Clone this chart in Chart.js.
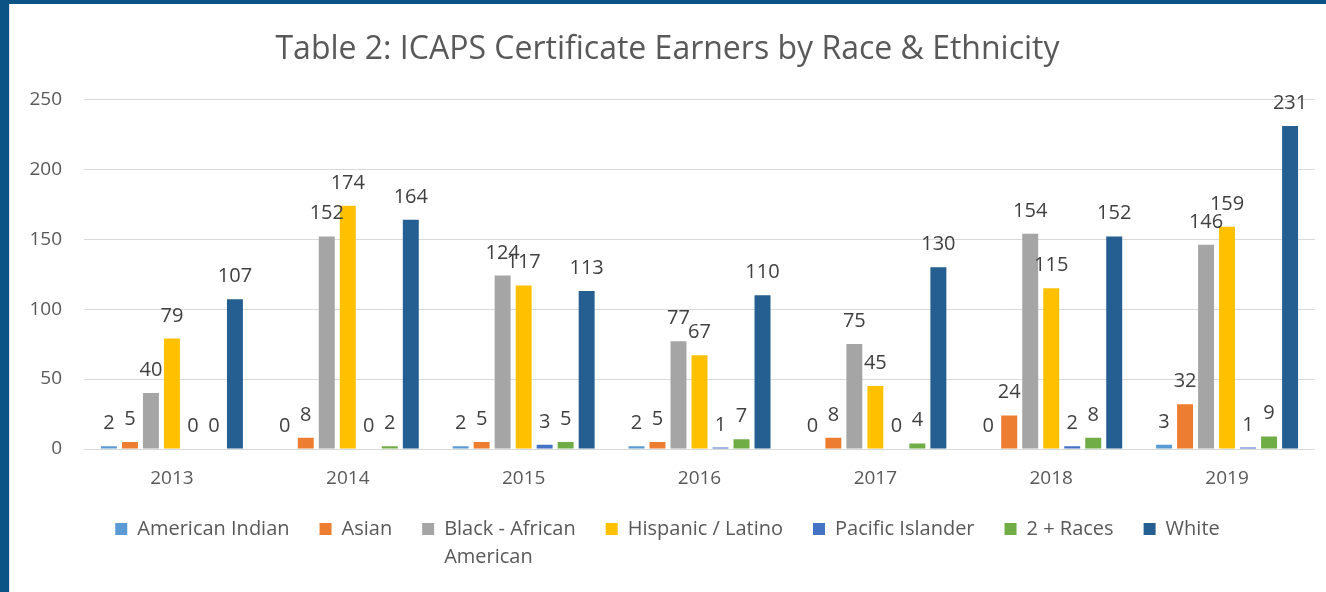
<!DOCTYPE html>
<html>
<head>
<meta charset="utf-8">
<script src="https://cdn.jsdelivr.net/npm/chart.js@4"></script>
<style>
  html, body { margin: 0; padding: 0; background: #fff; }
  #wrap { position: relative; width: 1326px; height: 592px; overflow: hidden; }
  #frameLeft { position: absolute; left: 0; top: 0; width: 9px; height: 592px; background: #0b5384; border-right: 1px solid #dfe3e8; }
  #frameTop { position: absolute; left: 0; top: 0; width: 1326px; height: 4px; background: #0b5384; }
</style>
</head>
<body>
<div id="wrap">
  <canvas id="raceChart" width="1326" height="592"></canvas>
  <div id="frameLeft"></div>
  <div id="frameTop"></div>
</div>
<script>
const years = ['2013', '2014', '2015', '2016', '2017', '2018', '2019'];
const americanIndian = [2, 0, 2, 2, 0, 0, 3];
const asian = [5, 8, 5, 5, 8, 24, 32];
const blackAfricanAmerican = [40, 152, 124, 77, 75, 154, 146];
const hispanicLatino = [79, 174, 117, 67, 45, 115, 159];
const pacificIslander = [0, 0, 3, 1, 0, 2, 1];
const twoPlusRaces = [0, 2, 5, 7, 4, 8, 9];
const white = [107, 164, 113, 110, 130, 152, 231];

const FONT = "'Open Sans', sans-serif";
const LEGEND_SIZE = 20;
const LEGEND_LINE = 28;

// draws the value above each bar, like Excel data labels
const valueLabels = {
  id: 'valueLabels',
  afterDatasetsDraw(chart) {
    const ctx = chart.ctx;
    ctx.save();
    ctx.font = '20px ' + FONT;
    ctx.fillStyle = '#404040';
    ctx.textAlign = 'center';
    ctx.textBaseline = 'alphabetic';
    chart.data.datasets.forEach((ds, i) => {
      chart.getDatasetMeta(i).data.forEach((bar, j) => {
        ctx.fillText(ds.data[j], bar.x, bar.y - 17);
      });
    });
    ctx.restore();
  }
};

// legend only takes one line per item here, so the wrapped rest of a label is drawn below it
const legendWrap = {
  id: 'legendWrap',
  afterDraw(chart) {
    const legend = chart.legend;
    const ctx = chart.ctx;
    ctx.save();
    ctx.font = LEGEND_SIZE + 'px ' + FONT;
    ctx.fillStyle = '#595959';
    ctx.textAlign = 'left';
    ctx.textBaseline = 'middle';
    legend.legendItems.forEach((item, i) => {
      const label = chart.data.datasets[item.datasetIndex].label;
      if (!Array.isArray(label)) return;
      const box = legend.legendHitBoxes[i];
      const x = box.left + legend.options.labels.boxWidth + LEGEND_SIZE / 2;
      let y = box.top + LEGEND_SIZE / 2;
      label.slice(1).forEach(line => {
        y += LEGEND_LINE;
        ctx.fillText(line, x, y);
      });
    });
    ctx.restore();
  }
};

const ctx = document.getElementById('raceChart').getContext('2d');

const raceChart = new Chart(ctx, {
  type: 'bar',
  data: {
    labels: years,
    datasets: [
      { label: 'American Indian', data: americanIndian, backgroundColor: '#5b9bd5' },
      { label: 'Asian', data: asian, backgroundColor: '#ed7d31' },
      { label: ['Black - African', 'American'], data: blackAfricanAmerican, backgroundColor: '#a5a5a5' },
      { label: 'Hispanic / Latino', data: hispanicLatino, backgroundColor: '#ffc000' },
      { label: 'Pacific Islander', data: pacificIslander, backgroundColor: '#4472c4' },
      { label: '2 + Races', data: twoPlusRaces, backgroundColor: '#70ad47' },
      { label: 'White', data: white, backgroundColor: '#255e91' }
    ]
  },
  plugins: [valueLabels, legendWrap],
  options: {
    responsive: false,
    animation: false,
    datasets: {
      bar: {
        categoryPercentage: 0.836,
        barPercentage: 0.76
      }
    },
    layout: {
      padding: { left: 20, right: 11, top: 14, bottom: 43 }
    },
    plugins: {
      title: {
        display: true,
        text: 'Table 2: ICAPS Certificate Earners by Race & Ethnicity',
        color: '#595959',
        font: { family: FONT, size: 32, weight: '400' },
        padding: { top: 17, bottom: 30 }
      },
      legend: {
        position: 'bottom',
        labels: {
          color: '#595959',
          boxWidth: 12,
          boxHeight: 12,
          padding: 30,
          font: { family: FONT, size: LEGEND_SIZE },
          generateLabels(chart) {
            const items = Chart.defaults.plugins.legend.labels.generateLabels(chart);
            items.forEach(item => {
              if (Array.isArray(item.text)) item.text = item.text[0];
            });
            return items;
          }
        }
      },
      tooltip: { enabled: false }
    },
    scales: {
      x: {
        afterFit: function(scale) { scale.height = 40; },
        grid: { display: false, drawTicks: false },
        border: { display: false },
        ticks: {
          color: '#595959',
          padding: 20,
          font: { family: FONT, size: 19, lineHeight: 1 }
        }
      },
      y: {
        min: 0,
        max: 250,
        afterFit: function(scale) { scale.width = 64; },
        grid: { color: '#d9d9d9', drawTicks: false },
        border: { display: false },
        ticks: {
          stepSize: 50,
          color: '#595959',
          padding: 22,
          font: { family: FONT, size: 19 }
        }
      }
    }
  }
});
</script>
</body>
</html>
